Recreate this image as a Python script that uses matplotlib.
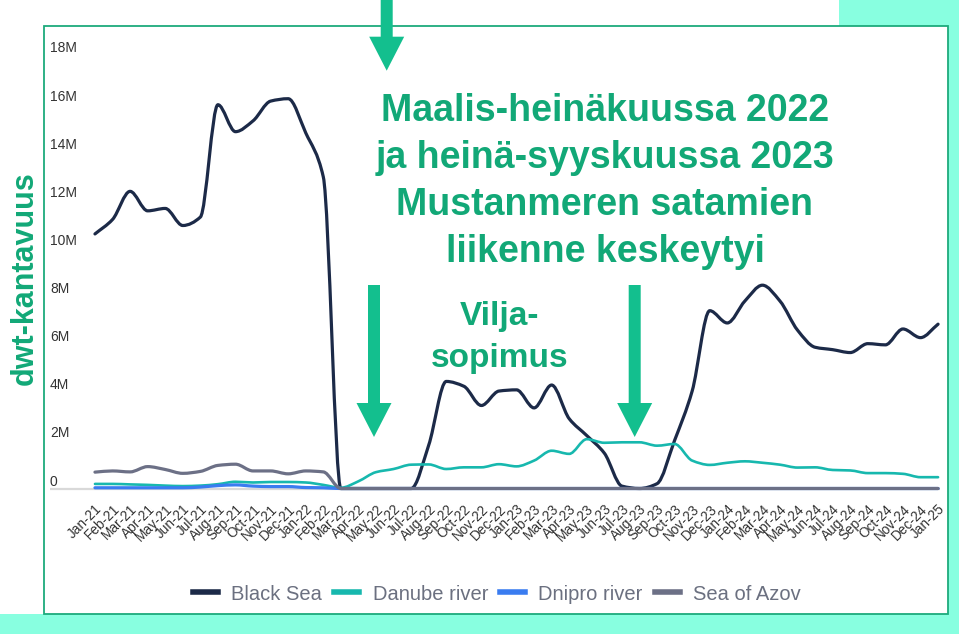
import matplotlib
matplotlib.use("Agg")
import numpy as np
import matplotlib.pyplot as plt
from matplotlib.patches import Rectangle, FancyArrow, PathPatch
from matplotlib.path import Path
from matplotlib.lines import Line2D

# DATA (miljoonaa dwt, kuukausittain Jan-21 ... Jan-25)
months = ["Jan", "Feb", "Mar", "Apr", "May", "Jun",
          "Jul", "Aug", "Sep", "Oct", "Nov", "Dec"]
years = ["21", "22", "23", "24", "25"]
tick_labels = [f"{m}-{y}" for y in years for m in months][:49]

black_sea = [10.58, 11.18, 12.35, 11.54, 11.64, 10.93, 11.28, 15.95, 14.83, 15.28, 16.1, 16.2,
             14.78, 12.95, 0.0, 0.0, 0.0, 0.0, 0.0, 1.8, 4.45, 4.25, 3.45, 4.05,
             4.1, 3.35, 4.3, 2.9, 2.2, 1.47, 0.1, 0.0, 0.2, 2.0, 4.05, 7.39,
             6.88, 7.79, 8.45, 7.79, 6.58, 5.87, 5.77, 5.65, 6.02, 5.97, 6.63, 6.27,
             6.83]
danube = [0.19, 0.19, 0.17, 0.15, 0.12, 0.1, 0.12, 0.18, 0.28, 0.25, 0.27, 0.27,
          0.25, 0.15, 0.03, 0.3, 0.68, 0.81, 0.99, 1.0, 0.81, 0.88, 0.88, 1.01,
          0.92, 1.16, 1.57, 1.44, 2.05, 1.9, 1.92, 1.92, 1.78, 1.85, 1.16, 0.98,
          1.07, 1.13, 1.07, 0.99, 0.87, 0.88, 0.77, 0.75, 0.64, 0.64, 0.61, 0.47,
          0.47]
dnipro = [0.03, 0.03, 0.03, 0.03, 0.03, 0.03, 0.06, 0.12, 0.15, 0.1, 0.08, 0.08,
          0.04, 0.03] + [0.0] * 35
azov = [0.68, 0.73, 0.69, 0.91, 0.79, 0.63, 0.71, 0.96, 1.01, 0.73, 0.73, 0.61,
        0.73, 0.69] + [0.0] * 35

series_names = ["Black Sea", "Danube river", "Dnipro river", "Sea of Azov"]
series_colors = ["#1C2A48", "#17B8AE", "#3A7CF0", "#6C7086"]

y_ticks = [0, 2, 4, 6, 8, 10, 12, 14, 16, 18]
y_tick_labels = ["0"] + [f"{v}M" for v in y_ticks[1:]]

txt_green = "#12A877"
arrow_green = "#13BF8E"
mint = "#88FFE0"


def smooth_path(xs, ys):
    # monotoninen kuutiokäyrä (kuten alkuperäisessä kaaviossa), kulkee datapisteiden kautta
    xs = np.asarray(xs, float)
    ys = np.asarray(ys, float)
    h = np.diff(xs)
    d = np.diff(ys) / h
    m = np.zeros_like(ys)
    m[0], m[-1] = d[0], d[-1]
    for i in range(1, len(ys) - 1):
        if d[i - 1] * d[i] <= 0:
            m[i] = 0
        else:
            m[i] = 3 * (h[i - 1] + h[i]) / ((2 * h[i] + h[i - 1]) / d[i - 1] + (h[i] + 2 * h[i - 1]) / d[i])
    verts = [(xs[0], ys[0])]
    codes = [Path.MOVETO]
    for i in range(len(xs) - 1):
        verts += [(xs[i] + h[i] / 3, ys[i] + m[i] * h[i] / 3),
                  (xs[i + 1] - h[i] / 3, ys[i + 1] - m[i + 1] * h[i] / 3),
                  (xs[i + 1], ys[i + 1])]
        codes += [Path.CURVE4] * 3
    return Path(verts, codes)


W, H = 959, 634
fig = plt.figure(figsize=(W / 100, H / 100), dpi=100)
fig.patch.set_facecolor("white")

# tausta: mintunvihreat reunat ja kehys
bg = fig.add_axes([0, 0, 1, 1], zorder=0)
bg.set_xlim(0, W)
bg.set_ylim(H, 0)
bg.axis("off")
bg.add_patch(Rectangle((0, 614), W, 20, color=mint, lw=0))
bg.add_patch(Rectangle((948, 0), 11, H, color=mint, lw=0))
bg.add_patch(Rectangle((839, 0), 120, 26, color=mint, lw=0))
bg.add_patch(Rectangle((44, 26), 904, 588, fill=False, ec="#1DAA7C", lw=1.3))

# KAAVIO
ax = fig.add_axes([50 / W, (H - 495) / H, 890 / W, 455 / H], zorder=1)
ax.patch.set_alpha(0)
x = list(range(len(tick_labels)))
ax.axhline(0, color="#D9D9D9", lw=1.6, zorder=1)
for vals, name, col in zip([black_sea, danube, dnipro, azov], series_names, series_colors):
    lw = 1.9 if name == "Danube river" else 2.3
    ax.add_patch(PathPatch(smooth_path(x, vals), fill=False, ec=col, lw=lw,
                           joinstyle="round", capstyle="round", zorder=2, clip_on=False))

ax.set_xlim(-2.56, 48.11)
ax.set_ylim(-0.27, 18.64)
for s in ax.spines.values():
    s.set_visible(False)

ax.set_yticks(y_ticks)
ax.set_yticklabels(y_tick_labels, fontsize=10, color="#333333", family="Liberation Sans")
for lbl in ax.get_yticklabels():
    lbl.set_ha("left")
    lbl.set_va("bottom")
ax.tick_params(axis="y", length=0, pad=0)

ax.set_xticks(x)
ax.set_xticklabels(tick_labels, rotation=45, ha="right", rotation_mode="anchor",
                   fontsize=9.8, color="#333333", family="Liberation Sans")
ax.tick_params(axis="x", length=0, pad=5)

# selite
handles = [Line2D([], [], color=c, lw=4) for c in series_colors]
fig.legend(handles, series_names, loc="center", bbox_to_anchor=(497 / W, 1 - 594 / H),
           ncol=4, frameon=False, handlelength=1.25, handletextpad=0.65, columnspacing=0.6,
           prop={"family": "Liberation Sans", "size": 14.5}, labelcolor="#6B7080")

fig.text(25 / W, 1 - 278 / H, "dwt-kantavuus", rotation=90, ha="center", va="center",
         fontsize=22, fontweight="bold", color=txt_green, family="Liberation Sans")

# NUOLET JA TEKSTIT
top = fig.add_axes([0, 0, 1, 1], zorder=3)
top.set_xlim(0, W)
top.set_ylim(H, 0)
top.axis("off")
top.patch.set_alpha(0)

for ax_x, y0, y1 in [(386.7, -5, 70.7), (374, 285, 437), (634.7, 285, 437)]:
    top.add_patch(FancyArrow(ax_x, y0, 0, y1 - y0, width=12, head_width=35, head_length=34,
                             length_includes_head=True, color=arrow_green, lw=0))

main_lines = ["Maalis-heinäkuussa 2022", "ja heinä-syyskuussa 2023",
              "Mustanmeren satamien", "liikenne keskeytyi"]
for i, line in enumerate(main_lines):
    top.text(605, 121 + i * 47, line, ha="center", va="baseline", fontsize=27,
             fontweight="bold", color=txt_green, family="Liberation Sans")

for i, line in enumerate(["Vilja-", "sopimus"]):
    top.text(500, 325 + i * 42, line, ha="center", va="baseline", fontsize=24,
             fontweight="bold", color=txt_green, family="Liberation Sans")

fig.savefig("out.png", dpi=100, facecolor=fig.get_facecolor())
